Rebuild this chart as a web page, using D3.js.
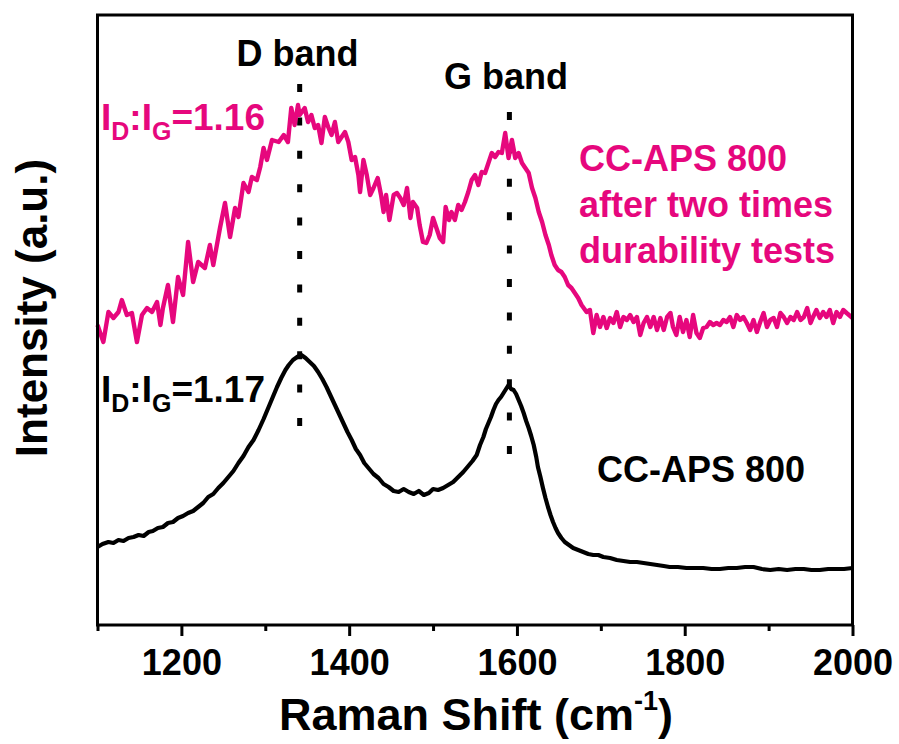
<!DOCTYPE html>
<html>
<head>
<meta charset="utf-8">
<script src="https://cdn.jsdelivr.net/npm/d3@7"></script>
<style>
  html, body { margin: 0; padding: 0; background: #fff; }
  svg { display: block; }
  text { font-family: "Liberation Sans", Arial, Helvetica, sans-serif; font-weight: bold; }
</style>
</head>
<body>
<svg id="chart" width="899" height="744"></svg>
<script>
// ---------- data ----------
const xTicksMajor = [1200, 1400, 1600, 1800, 2000];
const xTicksMinor = [1100, 1300, 1500, 1700, 1900];

// CC-APS 800 after two times durability tests (offset spectrum)
const pinkShift = [1100,1107,1113,1119,1125,1129,1135,1141,1147,1153,1159,1165,1171,1175,1178,1184,1190,1196,1202,1208,1214,1220,1228,1234,1238,1246,1252,1258,1264,1268,1274,1280,1284,1290,1294,1298,1302,1308,1316,1322,1327,1331,1335,1339,1341,1347,1351,1355,1359,1363,1367,1371,1375,1379,1383,1387,1391,1395,1399,1403,1407,1411,1413,1417,1421,1425,1429,1434,1438,1441,1444,1448,1453,1457,1461,1465,1469,1473,1476,1481,1484,1488,1492,1496,1500,1504,1508,1512,1515,1519,1522,1526,1530,1534,1538,1542,1546,1550,1554,1558,1562,1566,1570,1574,1578,1582,1586,1590,1594,1598,1602,1606,1610,1614,1618,1622,1626,1630,1634,1638,1641,1645,1649,1653,1657,1661,1665,1669,1673,1677,1683,1687,1691,1695,1699,1703,1707,1711,1715,1719,1723,1727,1731,1735,1739,1743,1747,1751,1755,1759,1763,1767,1771,1775,1779,1783,1786,1790,1794,1798,1802,1806,1810,1814,1818,1822,1826,1830,1834,1838,1842,1846,1850,1854,1858,1862,1866,1870,1874,1878,1882,1886,1890,1894,1898,1902,1906,1910,1914,1918,1922,1926,1930,1934,1938,1942,1946,1950,1953,1957,1961,1965,1969,1973,1977,1981,1985,1989,1993,2000];
const pinkIntensity = [300,283,313,307,313,325,310,312,283,310,317,313,323,300,317,340,303,348,330,383,343,363,357,380,360,397,422,388,417,408,442,433,448,445,458,477,465,485,483,490,483,517,500,520,510,517,503,510,497,500,482,508,498,490,503,483,488,493,483,465,468,450,433,465,450,430,437,447,430,413,430,405,430,432,427,420,437,407,423,417,400,383,382,390,407,397,387,383,418,405,413,405,420,415,423,433,445,450,440,453,452,462,472,468,473,472,492,467,485,467,472,462,457,452,437,427,413,403,390,380,370,360,355,353,348,340,337,332,327,320,313,315,292,310,298,308,297,307,302,313,298,308,305,310,303,308,290,302,308,298,308,295,307,295,308,312,298,290,308,293,305,288,310,292,287,297,298,303,300,302,300,305,303,308,298,310,305,308,302,295,305,293,303,312,298,305,307,298,312,308,302,308,305,313,305,308,317,302,308,315,307,313,308,315,302,313,308,315,312,307];

// CC-APS 800 (lower spectrum)
const blackShift = [1100,1106,1113,1119,1125,1131,1137,1143,1149,1155,1161,1166,1172,1178,1184,1190,1196,1202,1208,1214,1220,1226,1232,1238,1244,1250,1256,1262,1268,1274,1280,1286,1292,1298,1304,1309,1314,1319,1324,1328,1333,1338,1343,1348,1353,1358,1363,1368,1373,1378,1383,1388,1393,1398,1403,1408,1413,1418,1423,1429,1435,1441,1447,1453,1459,1465,1471,1477,1483,1489,1495,1500,1506,1512,1518,1524,1530,1536,1542,1547,1552,1556,1560,1563,1566,1569,1572,1575,1578,1581,1584,1587,1590,1593,1596,1599,1602,1605,1608,1611,1614,1617,1620,1623,1625,1628,1631,1634,1637,1640,1643,1646,1649,1653,1657,1662,1667,1673,1679,1685,1691,1697,1703,1711,1719,1727,1735,1743,1751,1759,1767,1775,1782,1792,1802,1812,1822,1832,1842,1852,1862,1872,1882,1892,1902,1912,1922,1932,1942,1951,1961,1971,1981,1990,2000];
const blackIntensity = [78,81,83,82,85,84,87,88,90,89,93,94,97,98,102,103,107,109,112,114,118,122,128,131,137,142,148,154,162,169,178,185,195,206,218,228,238,247,255,260,265,268,270,267,263,259,253,246,238,229,220,211,202,193,185,176,170,162,157,151,147,141,138,134,133,136,133,131,134,130,132,136,135,137,140,143,148,153,159,164,170,180,188,196,202,208,215,221,225,228,232,236,240,236,235,231,225,219,212,204,197,189,180,168,158,148,137,127,118,110,103,97,92,87,83,80,77,75,73,71,70,70,68,67,65,64,63,63,62,61,60,59,58,58,57,57,57,56,56,57,57,58,58,56,55,56,55,56,56,55,55,56,56,56,57];

// band markers (dotted guide lines)
const bandNames = ["D band", "G band"];
const bandShift = [1341, 1591];
const bandTop = [541, 513];
const bandBottom = [197, 170];

const ratioLabels = ["1.16", "1.17"];
const sampleLabels = ["CC-APS 800", "after two times", "durability tests"];

// ---------- layout ----------
const pink = "#E6077D";
const svg = d3.select("#chart");
const mLeft = 97.5, mRight = 852.5, mTop = 15, mBottom = 625;

const x = d3.scaleLinear().domain([1100, 2000]).range([mLeft, mRight]);
const y = d3.scaleLinear().domain([0, 610]).range([mBottom, mTop]);

// dotted guide lines
bandShift.forEach((s, i) => {
  svg.append("line")
    .attr("x1", x(s)).attr("x2", x(s))
    .attr("y1", y(bandTop[i])).attr("y2", y(bandBottom[i]))
    .attr("stroke", "#000").attr("stroke-width", 5)
    .attr("stroke-dasharray", "8 25.4");
});

// spectra
const line = d3.line().x(d => x(d[0])).y(d => y(d[1]));
svg.append("path")
  .datum(blackShift.map((s, i) => [s, blackIntensity[i]]))
  .attr("d", line).attr("fill", "none")
  .attr("stroke", "#000").attr("stroke-width", 4.2).attr("stroke-linejoin", "round");
svg.append("path")
  .datum(pinkShift.map((s, i) => [s, pinkIntensity[i]]))
  .attr("d", line).attr("fill", "none")
  .attr("stroke", pink).attr("stroke-width", 4.4).attr("stroke-linejoin", "round");

// frame
svg.append("rect")
  .attr("x", mLeft).attr("y", mTop)
  .attr("width", mRight - mLeft).attr("height", mBottom - mTop)
  .attr("fill", "none").attr("stroke", "#000").attr("stroke-width", 3);

// axis (major + minor)
const gMaj = svg.append("g").attr("transform", `translate(0,${mBottom})`)
  .call(d3.axisBottom(x).tickValues(xTicksMajor).tickSize(11).tickPadding(13).tickFormat(d3.format("d")));
const gMin = svg.append("g").attr("transform", `translate(0,${mBottom})`)
  .call(d3.axisBottom(x).tickValues(xTicksMinor).tickSize(6).tickFormat(""));
[gMaj, gMin].forEach(g => {
  g.select(".domain").remove();
  g.selectAll(".tick line").attr("stroke", "#000").attr("stroke-width", 3);
});
gMaj.selectAll(".tick text")
  .attr("fill", "#000")
  .style("font-size", "36px")
  .style("font-family", "'Liberation Sans', Arial, sans-serif")
  .style("font-weight", "bold");

// axis titles
const xt = svg.append("text").attr("x", 476).attr("y", 730)
  .attr("text-anchor", "middle").style("font-size", "45px").attr("fill", "#000");
xt.append("tspan").text("Raman Shift (cm");
xt.append("tspan").text("-1").style("font-size", "27px").attr("dy", -20);
xt.append("tspan").text(")").attr("dy", 20);

svg.append("text")
  .attr("transform", "translate(47,308) rotate(-90)")
  .attr("text-anchor", "middle").style("font-size", "44px").attr("fill", "#000")
  .text("Intensity (a.u.)");

// band labels
const bandLabelPos = [[297.5, 66], [506, 89]];
bandNames.forEach((n, i) => {
  svg.append("text").attr("x", bandLabelPos[i][0]).attr("y", bandLabelPos[i][1])
    .attr("text-anchor", "middle").style("font-size", "36px").attr("fill", "#000").text(n);
});

// ratio labels
function ratio(xp, yp, val, color) {
  const t = svg.append("text").attr("x", xp).attr("y", yp).style("font-size", "37px").attr("fill", color);
  t.append("tspan").text("I");
  t.append("tspan").text("D").style("font-size", "25px").attr("dy", 10);
  t.append("tspan").text(":I").attr("dy", -10);
  t.append("tspan").text("G").style("font-size", "25px").attr("dy", 10);
  t.append("tspan").text("=" + val).attr("dy", -10);
}
ratio(101, 130, ratioLabels[0], pink);
ratio(101, 402, ratioLabels[1], "#000");

// sample labels
sampleLabels.forEach((s, i) => {
  svg.append("text").attr("x", 579).attr("y", 171 + i * 46)
    .style("font-size", "36px").attr("fill", pink).text(s);
});
svg.append("text").attr("x", 597).attr("y", 482)
  .style("font-size", "36px").attr("fill", "#000").text(sampleLabels[0]);
</script>
</body>
</html>
